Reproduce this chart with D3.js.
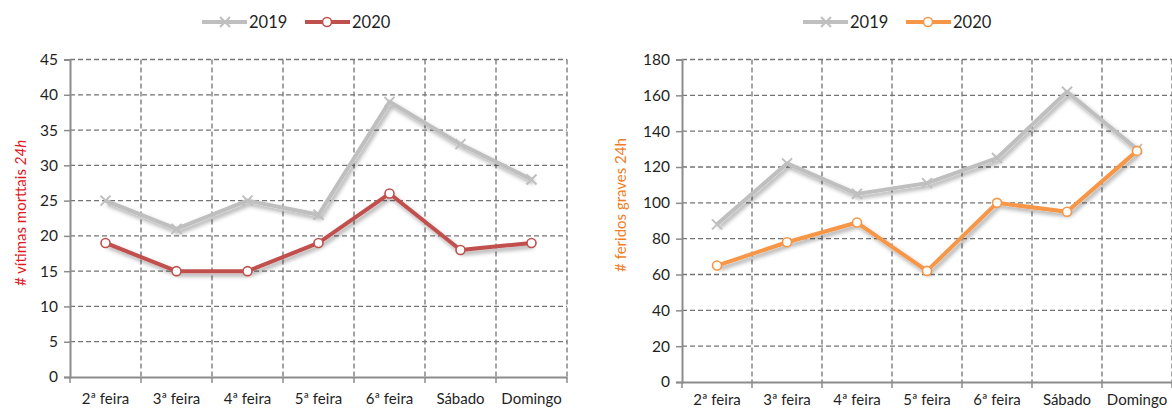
<!DOCTYPE html>
<html>
<head>
<meta charset="utf-8">
<script src="https://cdn.jsdelivr.net/npm/d3@7"></script>
<style>
  body { margin: 0; background: #fff; }
  svg { display: block; font-family: Lato, "Open Sans", sans-serif; }
</style>
</head>
<body>
<svg id="chart" width="1172" height="410"></svg>
<script>
// Dias da semana (eixo x comum)
const dias = ["2ª feira", "3ª feira", "4ª feira", "5ª feira", "6ª feira", "Sábado", "Domingo"];
const anos = ["2019", "2020"];

// vítimas mortais 24h
const mortais2019 = [25, 21, 25, 23, 39, 33, 28];
const mortais2020 = [19, 15, 15, 19, 26, 18, 19];
const mortaisTicks = [0, 5, 10, 15, 20, 25, 30, 35, 40, 45];

// feridos graves 24h
const feridos2019 = [88, 122, 105, 111, 125, 162, 130];
const feridos2020 = [65, 78, 89, 62, 100, 95, 129];
const feridosTicks = [0, 20, 40, 60, 80, 100, 120, 140, 160, 180];

const cinza = "#bfbfbf";
const gridCor = "#747474";
const eixoCor = "#8c8c8c";
const textoCor = "#1f1f1f";

const svg = d3.select("#chart");

// sombra das linhas (como no Excel)
const defs = svg.append("defs");
defs.append("filter")
  .attr("id", "sombra")
  .attr("x", "-10%").attr("y", "-20%")
  .attr("width", "130%").attr("height", "150%")
  .append("feDropShadow")
  .attr("dx", 2).attr("dy", 3)
  .attr("stdDeviation", 2)
  .attr("flood-color", "#000")
  .attr("flood-opacity", 0.35);

// desenha um gráfico
function desenhaGrafico(cfg) {
  const g = svg.append("g");

  const x = d3.scaleBand()
    .domain(dias)
    .range([cfg.left, cfg.right]);

  const y = d3.scaleLinear()
    .domain([0, d3.max(cfg.ticks)])
    .range([cfg.bottom, cfg.top]);

  // grelha horizontal tracejada
  g.append("g").selectAll("line")
    .data(cfg.ticks.slice(1))
    .enter().append("line")
    .attr("x1", cfg.left).attr("x2", cfg.right)
    .attr("y1", d => y(d)).attr("y2", d => y(d))
    .attr("stroke", gridCor)
    .attr("stroke-width", 1.3)
    .attr("stroke-dasharray", "5,3");

  // grelha vertical tracejada (limites das categorias)
  const limites = dias.slice(1).map(d => x(d)).concat([cfg.right]);
  g.append("g").selectAll("line")
    .data(limites)
    .enter().append("line")
    .attr("x1", d => d).attr("x2", d => d)
    .attr("y1", cfg.top).attr("y2", cfg.bottom)
    .attr("stroke", gridCor)
    .attr("stroke-width", 1.3)
    .attr("stroke-dasharray", "5,3");

  // eixo y
  const eixoY = d3.axisLeft(y)
    .tickValues(cfg.ticks)
    .tickSize(6)
    .tickPadding(6);
  const gy = g.append("g")
    .attr("transform", `translate(${cfg.left},0)`)
    .call(eixoY);
  gy.select(".domain").attr("stroke", eixoCor).attr("stroke-width", 2);
  gy.selectAll(".tick line").attr("stroke", eixoCor).attr("stroke-width", 1.5);
  gy.selectAll(".tick text")
    .attr("fill", textoCor)
    .style("font-size", "15.5px")
    .style("font-family", "Lato, 'Open Sans', sans-serif");

  // eixo x
  const eixoX = d3.axisBottom(x)
    .tickSize(0)
    .tickPadding(cfg.padX);
  const gx = g.append("g")
    .attr("transform", `translate(0,${cfg.bottom})`)
    .call(eixoX);
  gx.select(".domain").attr("stroke", eixoCor).attr("stroke-width", 2);
  gx.selectAll(".tick text")
    .attr("fill", textoCor)
    .style("font-size", "15px")
    .style("font-family", "Lato, 'Open Sans', sans-serif");
  // marcas nos limites das categorias
  gx.append("g").selectAll("line")
    .data([cfg.left].concat(limites))
    .enter().append("line")
    .attr("x1", d => d).attr("x2", d => d)
    .attr("y1", 0).attr("y2", 6)
    .attr("stroke", eixoCor)
    .attr("stroke-width", 1.5);

  // título do eixo y
  const titulo = g.append("text")
    .attr("transform", `translate(${cfg.tituloX},${cfg.tituloY}) rotate(-90)`)
    .attr("text-anchor", "middle")
    .attr("fill", cfg.cor)
    .style("font-size", "15px");
  titulo.append("tspan").text(cfg.titulo + " ");
  titulo.append("tspan").attr("font-style", cfg.italico ? "italic" : "normal").text("24h");

  const linha = d3.line()
    .x((d, i) => x(dias[i]) + x.bandwidth() / 2)
    .y(d => y(d));

  // série 2019
  g.append("path")
    .datum(cfg.serie2019)
    .attr("d", linha)
    .attr("fill", "none")
    .attr("stroke", cinza)
    .attr("stroke-width", 4)
    .attr("stroke-linejoin", "round")
    .attr("filter", "url(#sombra)");
  g.append("g").selectAll("path")
    .data(cfg.serie2019)
    .enter().append("path")
    .attr("d", (d, i) => {
      const cx = x(dias[i]) + x.bandwidth() / 2, cy = y(d), r = 5;
      return `M${cx - r},${cy - r}L${cx + r},${cy + r}M${cx - r},${cy + r}L${cx + r},${cy - r}`;
    })
    .attr("stroke", cinza)
    .attr("stroke-width", 2);

  // série 2020
  g.append("path")
    .datum(cfg.serie2020)
    .attr("d", linha)
    .attr("fill", "none")
    .attr("stroke", cfg.cor2020)
    .attr("stroke-width", 4)
    .attr("stroke-linejoin", "round")
    .attr("filter", "url(#sombra)");
  g.append("g").selectAll("circle")
    .data(cfg.serie2020)
    .enter().append("circle")
    .attr("cx", (d, i) => x(dias[i]) + x.bandwidth() / 2)
    .attr("cy", d => y(d))
    .attr("r", 4.5)
    .attr("fill", "#fff")
    .attr("stroke", cfg.cor2020)
    .attr("stroke-width", 1.6);

  // legenda
  const leg = g.append("g").attr("transform", `translate(${cfg.legX},${cfg.legY})`);
  anos.forEach((ano, i) => {
    const ox = i * 103;
    const cor = i === 0 ? cinza : cfg.cor2020;
    leg.append("line")
      .attr("x1", ox).attr("x2", ox + 45)
      .attr("y1", 0).attr("y2", 0)
      .attr("stroke", cor)
      .attr("stroke-width", 4);
    if (i === 0) {
      leg.append("path")
        .attr("d", `M${ox + 18},-5L${ox + 28},5M${ox + 18},5L${ox + 28},-5`)
        .attr("stroke", cor)
        .attr("stroke-width", 2);
    } else {
      leg.append("circle")
        .attr("cx", ox + 22).attr("cy", 0).attr("r", 4.5)
        .attr("fill", "#fff")
        .attr("stroke", cor)
        .attr("stroke-width", 1.6);
    }
    leg.append("text")
      .attr("x", ox + 47).attr("y", 0)
      .attr("dy", "0.36em")
      .attr("fill", textoCor)
      .style("font-size", "16.5px")
      .text(ano);
  });
}

desenhaGrafico({
  left: 70, right: 567, top: 59.5, bottom: 377,
  ticks: mortaisTicks,
  serie2019: mortais2019, serie2020: mortais2020,
  cor: "#e0191f", cor2020: "#c0504d",
  titulo: "# vítimas morttais", italico: true,
  tituloX: 26, tituloY: 213,
  legX: 202, legY: 22, padX: 16
});

desenhaGrafico({
  left: 682, right: 1172, top: 59.5, bottom: 382,
  ticks: feridosTicks,
  serie2019: feridos2019, serie2020: feridos2020,
  cor: "#f07e1f", cor2020: "#f79646",
  titulo: "# feridos graves", italico: false,
  tituloX: 626, tituloY: 205,
  legX: 803, legY: 22, padX: 12.5
});
</script>
</body>
</html>
